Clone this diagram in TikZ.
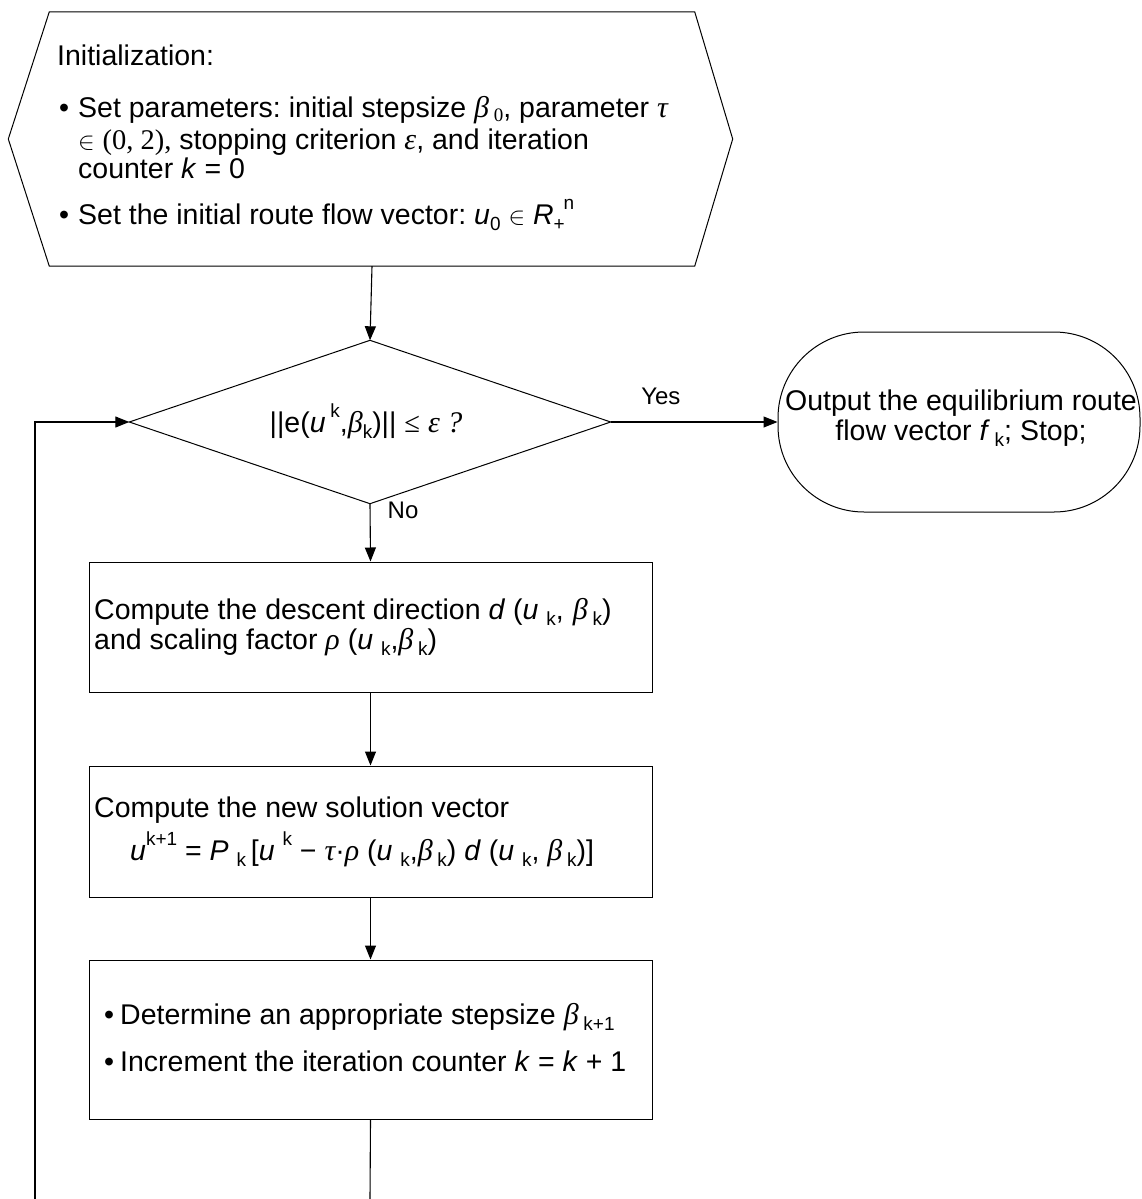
\documentclass[tikz,border=0pt]{standalone}
\usepackage{fontspec}
\setmainfont{Liberation Sans}
\newfontfamily\serifgr{Liberation Serif}
\usetikzlibrary{arrows.meta,calc}
\frenchspacing
\newcommand{\gk}[1]{{\serifgr\itshape\fontsize{30}{30}\selectfont #1}}
\newcommand{\lo}[1]{\raisebox{-0.22em}{\fontsize{19}{19}\selectfont #1}}
\newcommand{\hi}[1]{\raisebox{0.5em}{\fontsize{19}{19}\selectfont #1}}
\tikzset{
  arr/.style={line width=1.1pt,-{Triangle[length=14pt,width=11pt]}},
  ln/.style={line width=1.1pt},
  shp/.style={line width=1pt},
  procbox/.style={draw,shp,rectangle,minimum width=563pt,inner sep=0pt},
  txt/.style={inner sep=0pt,text height=20pt,text depth=5pt,font=\fontsize{28.5}{28.5}\selectfont},
  lbl/.style={inner sep=0pt,text height=17pt,text depth=3pt,font=\fontsize{24}{24}\selectfont}
}
\begin{document}
\begin{tikzpicture}[x=1pt,y=-1pt]
\useasboundingbox (0,0) rectangle (1141,1199);
% ---------- initialization hexagon
\node[rectangle,minimum width=645pt,minimum height=254pt,inner sep=0pt] (init) at (372,139) {};
\draw[shp] (init.north west) -- (init.north east) -- ($(init.east)+(38,0)$) -- (init.south east) -- (init.south west) -- ($(init.west)+(-41,0)$) -- cycle;
\node[txt,anchor=base west] (i0) at (57,66) {Initialization:};
\node[txt,anchor=base west] (i1b) at (59,117) {•};
\node[txt,anchor=base west] (i1) at (78,117) {Set parameters: initial stepsize \gk{β}\,\raisebox{-0.15em}{\fontsize{19}{19}\selectfont\serifgr 0}, parameter \gk{τ}};
\node[txt,anchor=base west] (i2) at (78,149) {$\in$ {\serifgr (0, 2),} stopping criterion \gk{ε}, and iteration};
\node[txt,anchor=base west] (i3) at (78,178) {counter \textit{k} = 0};
\node[txt,anchor=base west] (i4b) at (59,224) {•};
\node[txt,anchor=base west] (i4) at (78,224) {Set the initial route flow vector: \textit{u}\lo{0} $\in$ \textit{R}\lo{+}\kern-1pt\hi{n}};
% ---------- decision diamond
\node[rectangle,minimum width=481pt,minimum height=163pt,inner sep=0pt] (dec) at (370,422) {};
\draw[shp] (dec.north) -- (dec.east) -- (dec.south) -- (dec.west) -- cycle;
\node[txt,anchor=base] (dect) at (366,432) {||e(\textit{u}\,\hi{k},\gk{β}\lo{k})|| {\serifgr ≤} \gk{ε ?}};
% ---------- terminal
\node[draw,shp,rectangle,rounded corners=86pt,minimum width=362pt,minimum height=180pt] (out) at (959,422) {};
\node[txt,anchor=base] (o1) at (961,410) {Output the equilibrium route};
\node[txt,anchor=base] (o2) at (961,440) {flow vector \textit{f}\,\lo{k}; Stop;};
% ---------- process boxes
\node[procbox,minimum height=130pt] (c1) at (370.5,627) {};
\node[txt,anchor=base west] (c1a) at (94,619) {Compute the descent direction \textit{d} (\textit{u} \lo{k},\hspace{9pt}\gk{β}\,\lo{k})};
\node[txt,anchor=base west] (c1b) at (94,649) {and scaling factor \gk{ρ} (\textit{u} \lo{k},\gk{β}\,\lo{k})};
\node[procbox,minimum height=131pt] (c2) at (370.5,831.5) {};
\node[txt,anchor=base west] (c2a) at (94,817) {Compute the new solution vector};
\node[txt,anchor=base west] (c2b) at (130,860) {\textit{u}\hi{k+1} = \textit{P} \lo{k}\,[\textit{u} \hi{k} − \gk{τ}·\gk{ρ} (\textit{u} \lo{k},\gk{β}\,\lo{k}) \textit{d} (\textit{u} \lo{k}, \gk{β}\,\lo{k})]};
\node[procbox,minimum height=159pt] (c3) at (370.5,1039.5) {};
\node[txt,anchor=base west] (c3ab) at (104,1024) {•};
\node[txt,anchor=base west] (c3a) at (120,1024) {Determine an appropriate stepsize \gk{β}\,\lo{k+1}};
\node[txt,anchor=base west] (c3bb) at (104,1071) {•};
\node[txt,anchor=base west] (c3b) at (120,1071) {Increment the iteration counter \textit{k} = \textit{k} + 1};
% ---------- free ends at the bottom
\coordinate (bot1) at (370,1199);
\coordinate (bot2) at (35,1199);
% ---------- connectors
\draw[arr] (init.south) -- (dec.north);
\draw[arr] (dec.east) -- node[lbl,pos=0.18,anchor=base west,yshift=18pt]{Yes} (out.west);
\draw[arr] (dec.south) -- node[lbl,pos=0.25,anchor=base west,xshift=17pt]{No} (c1.north);
\draw[arr] (c1.south) -- (c2.north);
\draw[arr] (c2.south) -- (c3.north);
\draw[ln] (c3.south) -- (bot1);
\draw[arr] (bot2) |- (dec.west);
\end{tikzpicture}
\end{document}
